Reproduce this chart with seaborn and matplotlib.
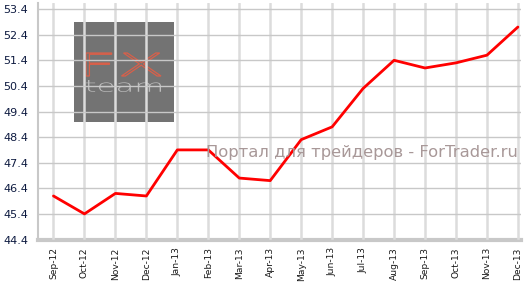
import matplotlib
matplotlib.use("Agg")
import matplotlib.pyplot as plt
import seaborn as sns
import pandas as pd
from matplotlib.patches import Rectangle, PathPatch
from matplotlib.textpath import TextPath
from matplotlib.font_manager import FontProperties
from matplotlib.transforms import Affine2D

months = ["Sep-12", "Oct-12", "Nov-12", "Dec-12", "Jan-13", "Feb-13", "Mar-13", "Apr-13",
          "May-13", "Jun-13", "Jul-13", "Aug-13", "Sep-13", "Oct-13", "Nov-13", "Dec-13"]
values = [46.1, 45.4, 46.2, 46.1, 47.9, 47.9, 46.8, 46.7,
          48.3, 48.8, 50.3, 51.4, 51.1, 51.3, 51.6, 52.7]
y_ticks = [44.4, 45.4, 46.4, 47.4, 48.4, 49.4, 50.4, 51.4, 52.4, 53.4]

sns.set_style("white")
plt.rcParams['font.family'] = ['DejaVu Sans']

W, H = 525, 284
fig = plt.figure(figsize=(W / 100, H / 100), dpi=100)
ax = fig.add_axes([38 / W, (H - 239.5) / H, (521 - 38) / W, (239.5 - 3) / H])

df = pd.DataFrame({"month": months, "value": values})
sns.lineplot(data=df, x="month", y="value", ax=ax, color="#ff0000", linewidth=2,
             sort=False, zorder=5)

ax.set_xlim(-0.5, 15.1)
ax.set_ylim(44.4, 44.4 + (239.5 - 3) / 25.6)
ax.set_yticks(y_ticks)
ax.set_yticklabels([f"{v:.1f}" for v in y_ticks])
ax.set_xticks(range(len(months)))
ax.set_xticklabels(months, rotation=90)
ax.set_xlabel("")
ax.set_ylabel("")

ax.set_axisbelow(False)
ax.yaxis.grid(True, color="#c8c8c8", linewidth=1, zorder=3)
ax.xaxis.grid(True, color="#dcdcdc", linewidth=1.8, zorder=3)

for s in ["top", "right"]:
    ax.spines[s].set_visible(False)
ax.spines["left"].set_color("#c8c8c8")
ax.spines["left"].set_linewidth(1.5)
ax.spines["bottom"].set_color("#c8c8c8")
ax.spines["bottom"].set_linewidth(3)
ax.tick_params(axis="x", length=4, width=1, color="#c8c8c8", labelsize=6.6,
               labelcolor="#1a1a1a", pad=1.5)
ax.tick_params(axis="y", length=4, width=1, color="#c8c8c8", labelsize=8,
               labelcolor="#0d1a40", pad=3)

# watermark box
fig.patches.append(Rectangle((74 / W, (H - 122) / H), 100 / W, 100 / H,
                             transform=fig.transFigure, facecolor="#737373",
                             edgecolor="none", zorder=1))


def stretched_text(s, x0, y0, x1, y1, **kw):
    """Draw text s filling the pixel box (x0,y0)-(x1,y1) (top-left origin)."""
    tp = TextPath((0, 0), s, size=10, prop=FontProperties(family="DejaVu Sans",
                                                             weight="light"))
    bb = tp.get_extents()
    sx = (x1 - x0) / bb.width
    sy = (y1 - y0) / bb.height
    tr = (Affine2D().translate(-bb.x0, -bb.y0).scale(sx / W, sy / H)
          .translate(x0 / W, (H - y1) / H))
    patch = PathPatch(tr.transform_path(tp), transform=fig.transFigure, zorder=2, **kw)
    fig.patches.append(patch)


stretched_text("FX", 86, 53, 161, 76, facecolor="none", edgecolor="#d8604a", linewidth=0.9)
stretched_text("team", 86, 80, 161, 92, facecolor="#bdbdbd", edgecolor="none")

ax.patch.set_alpha(0)
ax.set_zorder(3)

fig.text(518 / W, (H - 152) / H, "Портал для трейдеров - ForTrader.ru",
         color="#a89898", fontsize=11.8, ha="right", va="center", zorder=10)

fig.savefig("out.png", dpi=100)
